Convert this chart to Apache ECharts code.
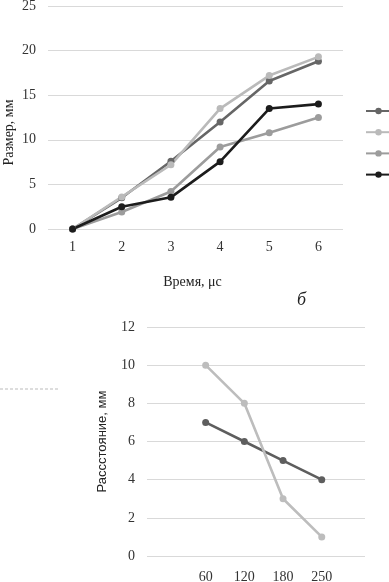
<!DOCTYPE html>
<html>
<head>
<meta charset="utf-8">
<script src="https://cdn.jsdelivr.net/npm/echarts@6/dist/echarts.min.js"></script>
<style>
  html, body { margin: 0; padding: 0; background: #fff; }
  #chart { width: 389px; height: 582px; }
</style>
</head>
<body>
<div id="chart"></div>
<script>
// верхний график: размер от времени
const timeCats = ["1", "2", "3", "4", "5", "6"];
const size1 = [0, 3.5, 7.6, 12.0, 16.6, 18.8];
const size2 = [0, 3.6, 7.2, 13.5, 17.2, 19.3];
const size3 = [0, 1.9, 4.2, 9.2, 10.8, 12.5];
const size4 = [0, 2.5, 3.55, 7.55, 13.5, 14.0];

// нижний график: расстояние
const distCats = ["60", "120", "180", "250"];
const dist1 = [7, 6, 5, 4];
const dist2 = [10, 8, 3, 1];

const serif = "Liberation Serif";
const gridLine = { lineStyle: { color: "#d9d9d9", width: 1.2 } };
const tickLabel = { color: "#333", fontFamily: serif, fontSize: 14 };

function lineSeries(name, data, color, x, y) {
  return {
    name: name,
    type: "line",
    xAxisIndex: x,
    yAxisIndex: y,
    data: data,
    symbol: "circle",
    symbolSize: 7,
    lineStyle: { color: color, width: 2.6 },
    itemStyle: { color: color },
  };
}

const chart = echarts.init(document.getElementById("chart"));
chart.setOption({
  animation: false,
  title: {
    text: "б",
    left: 292,
    top: 286,
    textStyle: { fontFamily: serif, fontStyle: "italic", fontWeight: "normal", fontSize: 18, color: "#222" },
  },
  legend: {
    orient: "vertical",
    left: 360,
    top: 102,
    itemWidth: 25,
    itemHeight: 8,
    itemGap: 14,
    formatter: () => "",
    data: ["Серия 1", "Серия 2", "Серия 3", "Серия 4"],
  },
  grid: [
    { left: 48, top: 6, width: 295, height: 223, outerBoundsMode: "none" },
    { left: 147, top: 327, width: 218, height: 229, outerBoundsMode: "none" },
    { left: 186.3, top: 327, width: 154.8, height: 229, outerBoundsMode: "none" },
  ],
  xAxis: [
    {
      gridIndex: 0,
      type: "category",
      data: timeCats,
      boundaryGap: true,
      axisLine: { show: false },
      axisTick: { show: false },
      axisLabel: Object.assign({ margin: 11 }, tickLabel),
      name: "Время, μс",
      nameLocation: "middle",
      nameGap: 46,
      nameMoveOverlap: false,
      nameTextStyle: { fontFamily: serif, fontSize: 14, color: "#222", padding: [0, 6, 0, 0] },
    },
    { gridIndex: 1, type: "category", data: distCats, show: false },
    {
      gridIndex: 2,
      type: "category",
      data: distCats,
      boundaryGap: true,
      axisLine: { show: false },
      axisTick: { show: false },
      axisLabel: Object.assign({ margin: 14 }, tickLabel),
    },
  ],
  yAxis: [
    {
      gridIndex: 0,
      type: "value",
      min: 0,
      max: 25,
      interval: 5,
      splitLine: gridLine,
      axisLabel: Object.assign({ margin: 12 }, tickLabel),
      name: "Размер, мм",
      nameLocation: "middle",
      nameGap: 32,
      nameMoveOverlap: false,
      nameTextStyle: { fontFamily: serif, fontSize: 14, color: "#222", padding: [0, 30, 0, 0] },
    },
    {
      gridIndex: 1,
      type: "value",
      min: 0,
      max: 12,
      interval: 2,
      splitLine: gridLine,
      axisLabel: Object.assign({ margin: 12 }, tickLabel),
      name: "Рассстояние, мм",
      nameLocation: "middle",
      nameGap: 38,
      nameMoveOverlap: false,
      nameTextStyle: { fontFamily: "Liberation Sans", fontSize: 13, color: "#222" },
    },
    { gridIndex: 2, type: "value", min: 0, max: 12, show: false, splitLine: { show: false } },
  ],
  graphic: [
    {
      type: "line",
      shape: { x1: 0, y1: 389, x2: 58, y2: 389 },
      style: { stroke: "#bbb", lineWidth: 1, lineDash: [3, 2] },
    },
  ],
  series: [
    lineSeries("Серия 1", size1, "#666666", 0, 0),
    lineSeries("Серия 2", size2, "#bababa", 0, 0),
    lineSeries("Серия 3", size3, "#9c9c9c", 0, 0),
    lineSeries("Серия 4", size4, "#1c1c1c", 0, 0),
    lineSeries("Ряд 1", dist1, "#5e5e5e", 2, 2),
    lineSeries("Ряд 2", dist2, "#bdbdbd", 2, 2),
  ],
});
</script>
</body>
</html>
